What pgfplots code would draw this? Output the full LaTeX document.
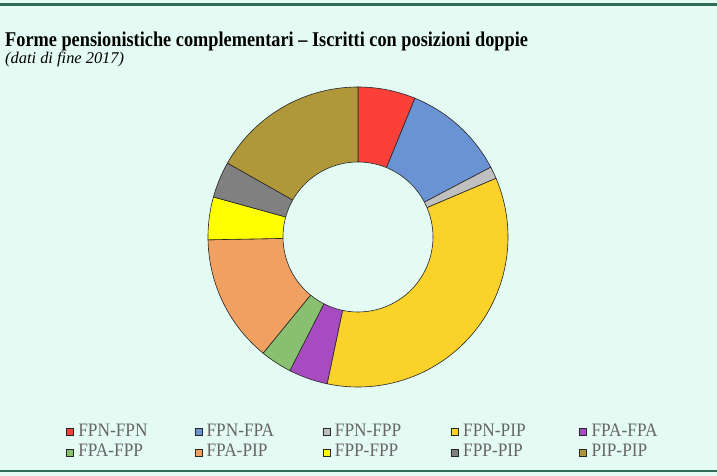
\documentclass[border=0pt]{standalone}
\usepackage{graphicx}
\usepackage{pgfplots}
\pgfplotsset{compat=1.18}
\usepackage{fontspec}
\setmainfont{Liberation Serif}
\definecolor{bg}{HTML}{E4FBF3}
\definecolor{lineG}{HTML}{2E6A55}
\definecolor{cRed}{HTML}{FA4038}
\definecolor{cBlue}{HTML}{6A93D4}
\definecolor{cGray}{HTML}{C0C0C0}
\definecolor{cYel}{HTML}{FBD22A}
\definecolor{cPur}{HTML}{A64CC0}
\definecolor{cGreen}{HTML}{88C070}
\definecolor{cOra}{HTML}{F0A060}
\definecolor{cYel2}{HTML}{FFFF00}
\definecolor{cGray2}{HTML}{808080}
\definecolor{cOli}{HTML}{B0983A}
\newcommand{\slice}[3]{%
  \addplot[fill=#3, draw=black!85, line width=0.6pt, domain=90-3.6*#2:90-3.6*#1, samples=80]
    ({cos(x)},{sin(x)}) -- (axis cs:0,0) -- cycle;}
\newcommand{\lbl}[1]{\makebox[120.7pt][l]{\hspace{4.5pt}\scalebox{0.91}[1]{#1}}}
\begin{document}
\begin{tikzpicture}
\fill[bg] (0pt,0pt) rectangle (717pt,476pt);
\fill[lineG] (0pt,470pt) rectangle (717pt,472.5pt);
\fill[lineG] (0pt,3.5pt) rectangle (717pt,6pt);
\node[anchor=base west, inner sep=0] at (5pt,429.5pt) {\scalebox{0.871}[1]{\bfseries\fontsize{21}{23}\selectfont Forme pensionistiche complementari – Iscritti con posizioni doppie}};
\node[anchor=base west, font=\itshape\fontsize{16.4}{18}\selectfont, inner sep=0] at (5pt,412.5pt) {(dati di fine 2017)};
\begin{axis}[at={(358pt,239pt)}, anchor=center, scale only axis,
  width=300pt, height=300pt, xmin=-1, xmax=1, ymin=-1, ymax=1,
  hide axis, clip=false,
  legend columns=5,
  legend cell align=left,
  legend style={at={(-0.4733,-0.122)}, anchor=north west, draw=none, fill=none,
    inner sep=0pt, column sep=0pt, row sep=6.5pt,
    font=\fontsize{19}{21}\selectfont, text=black!60,
    nodes={inner xsep=0pt, inner ysep=0pt, font=\fontsize{19}{21}\selectfont}},
  legend image code/.code={\draw[#1, draw=black!85, line width=0.6pt] (0pt,-4.5pt) rectangle (7pt,2.5pt);},
]
% cumulative percentages: 0, 6.2, 17.3, 18.6, 53.3, 57.5, 60.9, 74.7, 79.3, 83.2, 100
\slice{0}{6.2}{cRed}      \addlegendentry{\lbl{FPN-FPN}}
\slice{6.2}{17.3}{cBlue}  \addlegendentry{\lbl{FPN-FPA}}
\slice{17.3}{18.6}{cGray} \addlegendentry{\lbl{FPN-FPP}}
\slice{18.6}{53.3}{cYel}  \addlegendentry{\lbl{FPN-PIP}}
\slice{53.3}{57.5}{cPur}  \addlegendentry{\lbl{FPA-FPA}}
\slice{57.5}{60.9}{cGreen}\addlegendentry{\lbl{FPA-FPP}}
\slice{60.9}{74.7}{cOra}  \addlegendentry{\lbl{FPA-PIP}}
\slice{74.7}{79.3}{cYel2} \addlegendentry{\lbl{FPP-FPP}}
\slice{79.3}{83.2}{cGray2}\addlegendentry{\lbl{FPP-PIP}}
\slice{83.2}{100}{cOli}   \addlegendentry{\lbl{PIP-PIP}}
\addplot[forget plot, fill=bg, draw=black!85, line width=0.6pt, domain=0:360, samples=120]
  ({0.5*cos(x)},{0.5*sin(x)}) -- cycle;
\end{axis}
\end{tikzpicture}
\end{document}
